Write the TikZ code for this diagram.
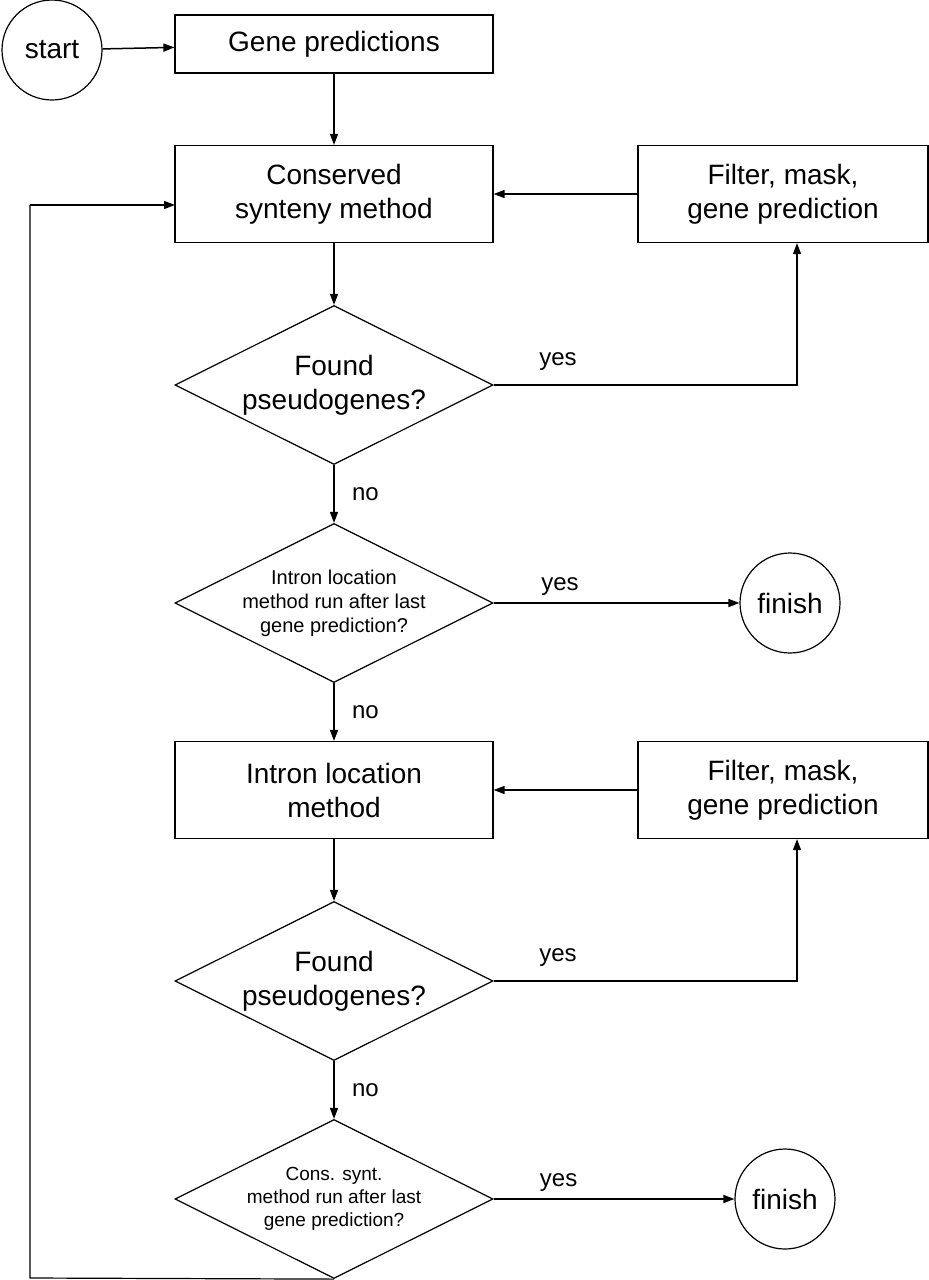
\documentclass[tikz,border=0pt]{standalone}
\usepackage{fontspec}
\setmainfont{Liberation Sans}
\usetikzlibrary{shapes.geometric,arrows.meta}
\begin{document}
\begin{tikzpicture}[x=1pt,y=-1pt,
  box/.style={draw,line width=1.2pt,minimum width=318pt,minimum height=97pt,align=center,font=\fontsize{28}{34}\selectfont,inner sep=0},
  fbox/.style={box,minimum width=290pt},
  dia/.style={draw,diamond,line width=1.2pt,minimum width=318pt,minimum height=159pt,inner sep=0,align=center,aspect=2},
  circ/.style={draw,circle,line width=1.2pt,minimum size=100pt,inner sep=0,font=\fontsize{28}{34}\selectfont},
  arr/.style={line width=1.5pt,-{Triangle[length=11pt,width=8pt]}},
  lab/.style={font=\fontsize{24}{28}\selectfont}]
\useasboundingbox (0,0) rectangle (929,1280);
\node[circ] (start) at (52,50) {start};
\node[box,minimum height=58pt] (gp) at (334,44) {Gene predictions};
\node[box] (cs) at (334,194) {Conserved\\synteny method};
\node[fbox] (f1) at (783,194) {Filter, mask,\\gene prediction};
\node[dia,font=\fontsize{28}{34}\selectfont] (d1) at (334,385) {Found\\pseudogenes?};
\node[dia,font=\fontsize{20}{24}\selectfont] (d2) at (334,603) {Intron location\\method run after last\\gene prediction?};
\node[circ] (fin1) at (790,603) {finish};
\node[box] (il) at (334,790) {Intron location\\method};
\node[fbox] (f2) at (783,790) {Filter, mask,\\gene prediction};
\node[dia,font=\fontsize{28}{34}\selectfont] (d3) at (334,981) {Found\\pseudogenes?};
\node[dia,font=\fontsize{19}{23}\selectfont] (d4) at (334,1199) {Cons. synt.\\method run after last\\gene prediction?};
\node[circ] (fin2) at (785,1199) {finish};
\coordinate (c1) at (797,385);
\coordinate (c2) at (797,981);
\coordinate (l1) at (30,1278);
\coordinate (l2) at (30,205);
\coordinate (l3) at (175,205);
\draw[arr] (start) -- (gp);
\draw[arr] (gp) -- (cs);
\draw[arr] (cs) -- (d1);
\draw[arr] (f1) -- (cs);
\draw[arr] (d1.east) -- (c1) -- (f1.south -| c1);
\node[lab] (y1) at (558,362) {yes};
\draw[arr] (d1) -- node[lab,right=14pt] {no} (d2);
\draw[arr] (d2) -- node[lab,above=3pt,pos=0.27] {yes} (fin1);
\draw[arr] (d2) -- node[lab,right=14pt] {no} (il);
\draw[arr] (f2) -- (il);
\draw[arr] (il) -- (d3);
\draw[arr] (d3.east) -- (c2) -- (f2.south -| c2);
\node[lab] (y3) at (558,958) {yes};
\draw[arr] (d3) -- node[lab,right=14pt] {no} (d4);
\draw[arr] (d4) -- node[lab,above=3pt,pos=0.27] {yes} (fin2);
\draw[line width=1.2pt] (d4.south) -- (l1) -- (l2);
\draw[arr] (l2) -- (l3);
\end{tikzpicture}
\end{document}
